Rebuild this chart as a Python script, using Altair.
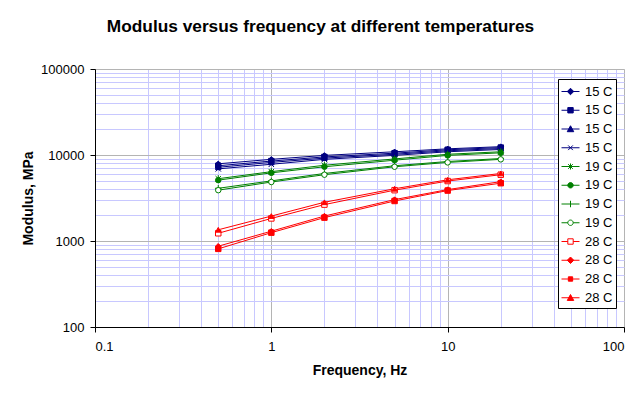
import altair as alt
import pandas as pd

# ---- data ----
freq_hz = [0.5, 1, 2, 5, 10, 20]

mod_15c_a = [7900, 8900, 9900, 10900, 11800, 12500]
mod_15c_b = [7500, 8500, 9500, 10500, 11500, 12200]
mod_15c_c = [7200, 8200, 9200, 10200, 11200, 11900]
mod_15c_d = [6900, 7800, 8900, 9900, 10900, 11600]

mod_19c_a = [5300, 6400, 7600, 9000, 10200, 10900]
mod_19c_b = [5100, 6200, 7300, 8700, 9900, 10600]
mod_19c_c = [4100, 5000, 6100, 7500, 8400, 9100]
mod_19c_d = [3900, 4850, 5900, 7300, 8200, 8900]

mod_28c_a = [1230, 1830, 2650, 3900, 4980, 5900]
mod_28c_b = [870, 1300, 1950, 3030, 3960, 4900]
mod_28c_c = [810, 1250, 1870, 2920, 3860, 4700]
mod_28c_d = [1350, 1950, 2820, 4050, 5150, 6100]

series_ids = ["s01", "s02", "s03", "s04", "s05", "s06",
              "s07", "s08", "s09", "s10", "s11", "s12"]
series_labels = ["15 C"] * 4 + ["19 C"] * 4 + ["28 C"] * 4
series_values = [mod_15c_a, mod_15c_b, mod_15c_c, mod_15c_d,
                 mod_19c_a, mod_19c_b, mod_19c_c, mod_19c_d,
                 mod_28c_a, mod_28c_b, mod_28c_c, mod_28c_d]

x_ticks = [0.1, 0.2, 0.3, 0.4, 0.5, 0.6, 0.7, 0.8, 0.9,
           1, 2, 3, 4, 5, 6, 7, 8, 9,
           10, 20, 30, 40, 50, 60, 70, 80, 90, 100]
y_ticks = [100, 200, 300, 400, 500, 600, 700, 800, 900,
           1000, 2000, 3000, 4000, 5000, 6000, 7000, 8000, 9000,
           10000, 20000, 30000, 40000, 50000, 60000, 70000, 80000, 90000, 100000]

# ---- styles ----
NAVY, GREEN, RED = "#000080", "#008000", "#ff0000"
line_colors = [NAVY] * 4 + [GREEN] * 4 + [RED] * 4
fill_colors = [NAVY] * 4 + [GREEN] * 3 + ["white", "white"] + [RED] * 3

marker_shapes = [
    "diamond", "square", "triangle-up", "M-1,-1L1,1M-1,1L1,-1",
    "M-1,-1L1,1M-1,1L1,-1M0,-1.3V1.3", "circle", "M-1.2,0H1.2M0,-1.2V1.2", "circle",
    "square", "diamond", "square", "triangle-up",
]
marker_sizes = [30, 30, 30, 24, 24, 30, 30, 26, 26, 30, 22, 30]

CIRC = ("M0.3,0C0.3,0.166,0.166,0.3,0,0.3C-0.166,0.3,-0.3,0.166,-0.3,0"
        "C-0.3,-0.166,-0.166,-0.3,0,-0.3C0.166,-0.3,0.3,-0.166,0.3,0Z")
legend_shapes = [
    "M-1,0H1M0,-0.36L0.36,0L0,0.36L-0.36,0Z",
    "M-1,0H1M-0.3,-0.3H0.3V0.3H-0.3Z",
    "M-1,0H1M0,-0.36L0.36,0.3H-0.36Z",
    "M-1,0H1M-0.26,-0.26L0.26,0.26M-0.26,0.26L0.26,-0.26",
    "M-1,0H1M-0.26,-0.26L0.26,0.26M-0.26,0.26L0.26,-0.26M0,-0.34V0.34",
    "M-1,0H1" + CIRC,
    "M-1,0H1M0,-0.36V0.36",
    "M-1,0H-0.3M0.3,0H1" + CIRC,
    "M-1,0H-0.3M0.3,0H1M-0.3,-0.3H0.3V0.3H-0.3Z",
    "M-1,0H1M0,-0.36L0.36,0L0,0.36L-0.36,0Z",
    "M-1,0H1M-0.24,-0.24H0.24V0.24H-0.24Z",
    "M-1,0H1M0,-0.36L0.36,0.3H-0.36Z",
]

rows = []
for sid, lab, vals in zip(series_ids, series_labels, series_values):
    for f, v in zip(freq_hz, vals):
        rows.append({"series": sid, "label": lab, "freq": f, "modulus": v})
df = pd.DataFrame(rows)

FONT = "Liberation Sans"
MAJOR_GRID = "#b4b4b4"
MINOR_GRID = "#c8c8ff"

x_major_test = "indexof([0.1, 1, 10, 100], datum.value) >= 0"
y_major_test = "indexof([100, 1000, 10000, 100000], datum.value) >= 0"

x_enc = alt.X(
    "freq:Q",
    scale=alt.Scale(type="log", domain=[0.1, 100]),
    axis=alt.Axis(
        values=x_ticks, format="~g", title="Frequency, Hz",
        labelExpr=f"{x_major_test} ? datum.label : ''",
        grid=True,
        gridColor={"condition": {"test": x_major_test, "value": MAJOR_GRID}, "value": MINOR_GRID},
        tickColor={"condition": {"test": x_major_test, "value": "black"}, "value": "transparent"},
        tickSize=5, domainColor="black", labelPadding=8, titlePadding=10,
        labelFont=FONT, labelFontSize=13, labelColor="black",
        titleFont=FONT, titleFontSize=14, titleFontWeight="bold", titleColor="black",
    ),
)
y_enc = alt.Y(
    "modulus:Q",
    scale=alt.Scale(type="log", domain=[100, 100000]),
    axis=alt.Axis(
        values=y_ticks, format="d", title="Modulus, MPa",
        labelExpr=f"{y_major_test} ? datum.label : ''",
        grid=True,
        gridColor={"condition": {"test": y_major_test, "value": MAJOR_GRID}, "value": MINOR_GRID},
        tickColor={"condition": {"test": y_major_test, "value": "black"}, "value": "transparent"},
        tickSize=5, domainColor="black", labelPadding=6, titlePadding=5,
        labelFont=FONT, labelFontSize=13, labelColor="black",
        titleFont=FONT, titleFontSize=14, titleFontWeight="bold", titleColor="black",
    ),
)

base = alt.Chart(df)

lines = base.mark_line(strokeWidth=1, clip=True).encode(
    x=x_enc, y=y_enc,
    stroke=alt.Stroke("series:N", scale=alt.Scale(domain=series_ids, range=line_colors), legend=None),
    detail="series:N",
)

points = base.mark_point(strokeWidth=1, opacity=1, clip=True).encode(
    x=x_enc, y=y_enc,
    stroke=alt.Stroke("series:N", scale=alt.Scale(domain=series_ids, range=line_colors), legend=None),
    fill=alt.Fill("series:N", scale=alt.Scale(domain=series_ids, range=fill_colors), legend=None),
    shape=alt.Shape("series:N", scale=alt.Scale(domain=series_ids, range=marker_shapes), legend=None),
    size=alt.Size("series:N", scale=alt.Scale(domain=series_ids, range=marker_sizes), legend=None),
)

leg = alt.Legend(
    orient="none", legendX=463, legendY=10, title=None,
    padding=3, columnPadding=0, strokeColor="black", fillColor="white",
    labelFont=FONT, labelFontSize=13, labelColor="black", labelOffset=5,
    labelExpr="datum.value <= 's04' ? '15 C' : (datum.value <= 's08' ? '19 C' : '28 C')",
    symbolSize=324, symbolStrokeWidth=1, symbolOpacity=1, rowPadding=1.75,
)

legend_layer = base.transform_calculate(
    leg="datum.series", modulus="0.001"
).mark_point(strokeWidth=1, opacity=1, clip=True).encode(
    x=x_enc, y=y_enc,
    stroke=alt.Stroke("leg:N", scale=alt.Scale(domain=series_ids, range=line_colors), legend=leg),
    fill=alt.Fill("leg:N", scale=alt.Scale(domain=series_ids, range=fill_colors), legend=leg),
    shape=alt.Shape("leg:N", scale=alt.Scale(domain=series_ids, range=legend_shapes), legend=leg),
)

chart = alt.layer(lines, points, legend_layer).resolve_scale(
    stroke="independent", fill="independent", shape="independent", size="independent"
).properties(
    width=529, height=258,
    title=alt.TitleParams(
        "Modulus versus frequency at different temperatures",
        font=FONT, fontSize=17.3, fontWeight="bold", color="black",
        anchor="middle", dx=-39, offset=28,
    ),
    autosize=alt.AutoSizeParams(type="none"),
    padding={"left": 87, "top": 61, "right": 11, "bottom": 61},
).configure_view(stroke=MAJOR_GRID, strokeWidth=1).configure(background="white")

chart.save("out.html", embed_options={"renderer": "svg", "actions": False})
